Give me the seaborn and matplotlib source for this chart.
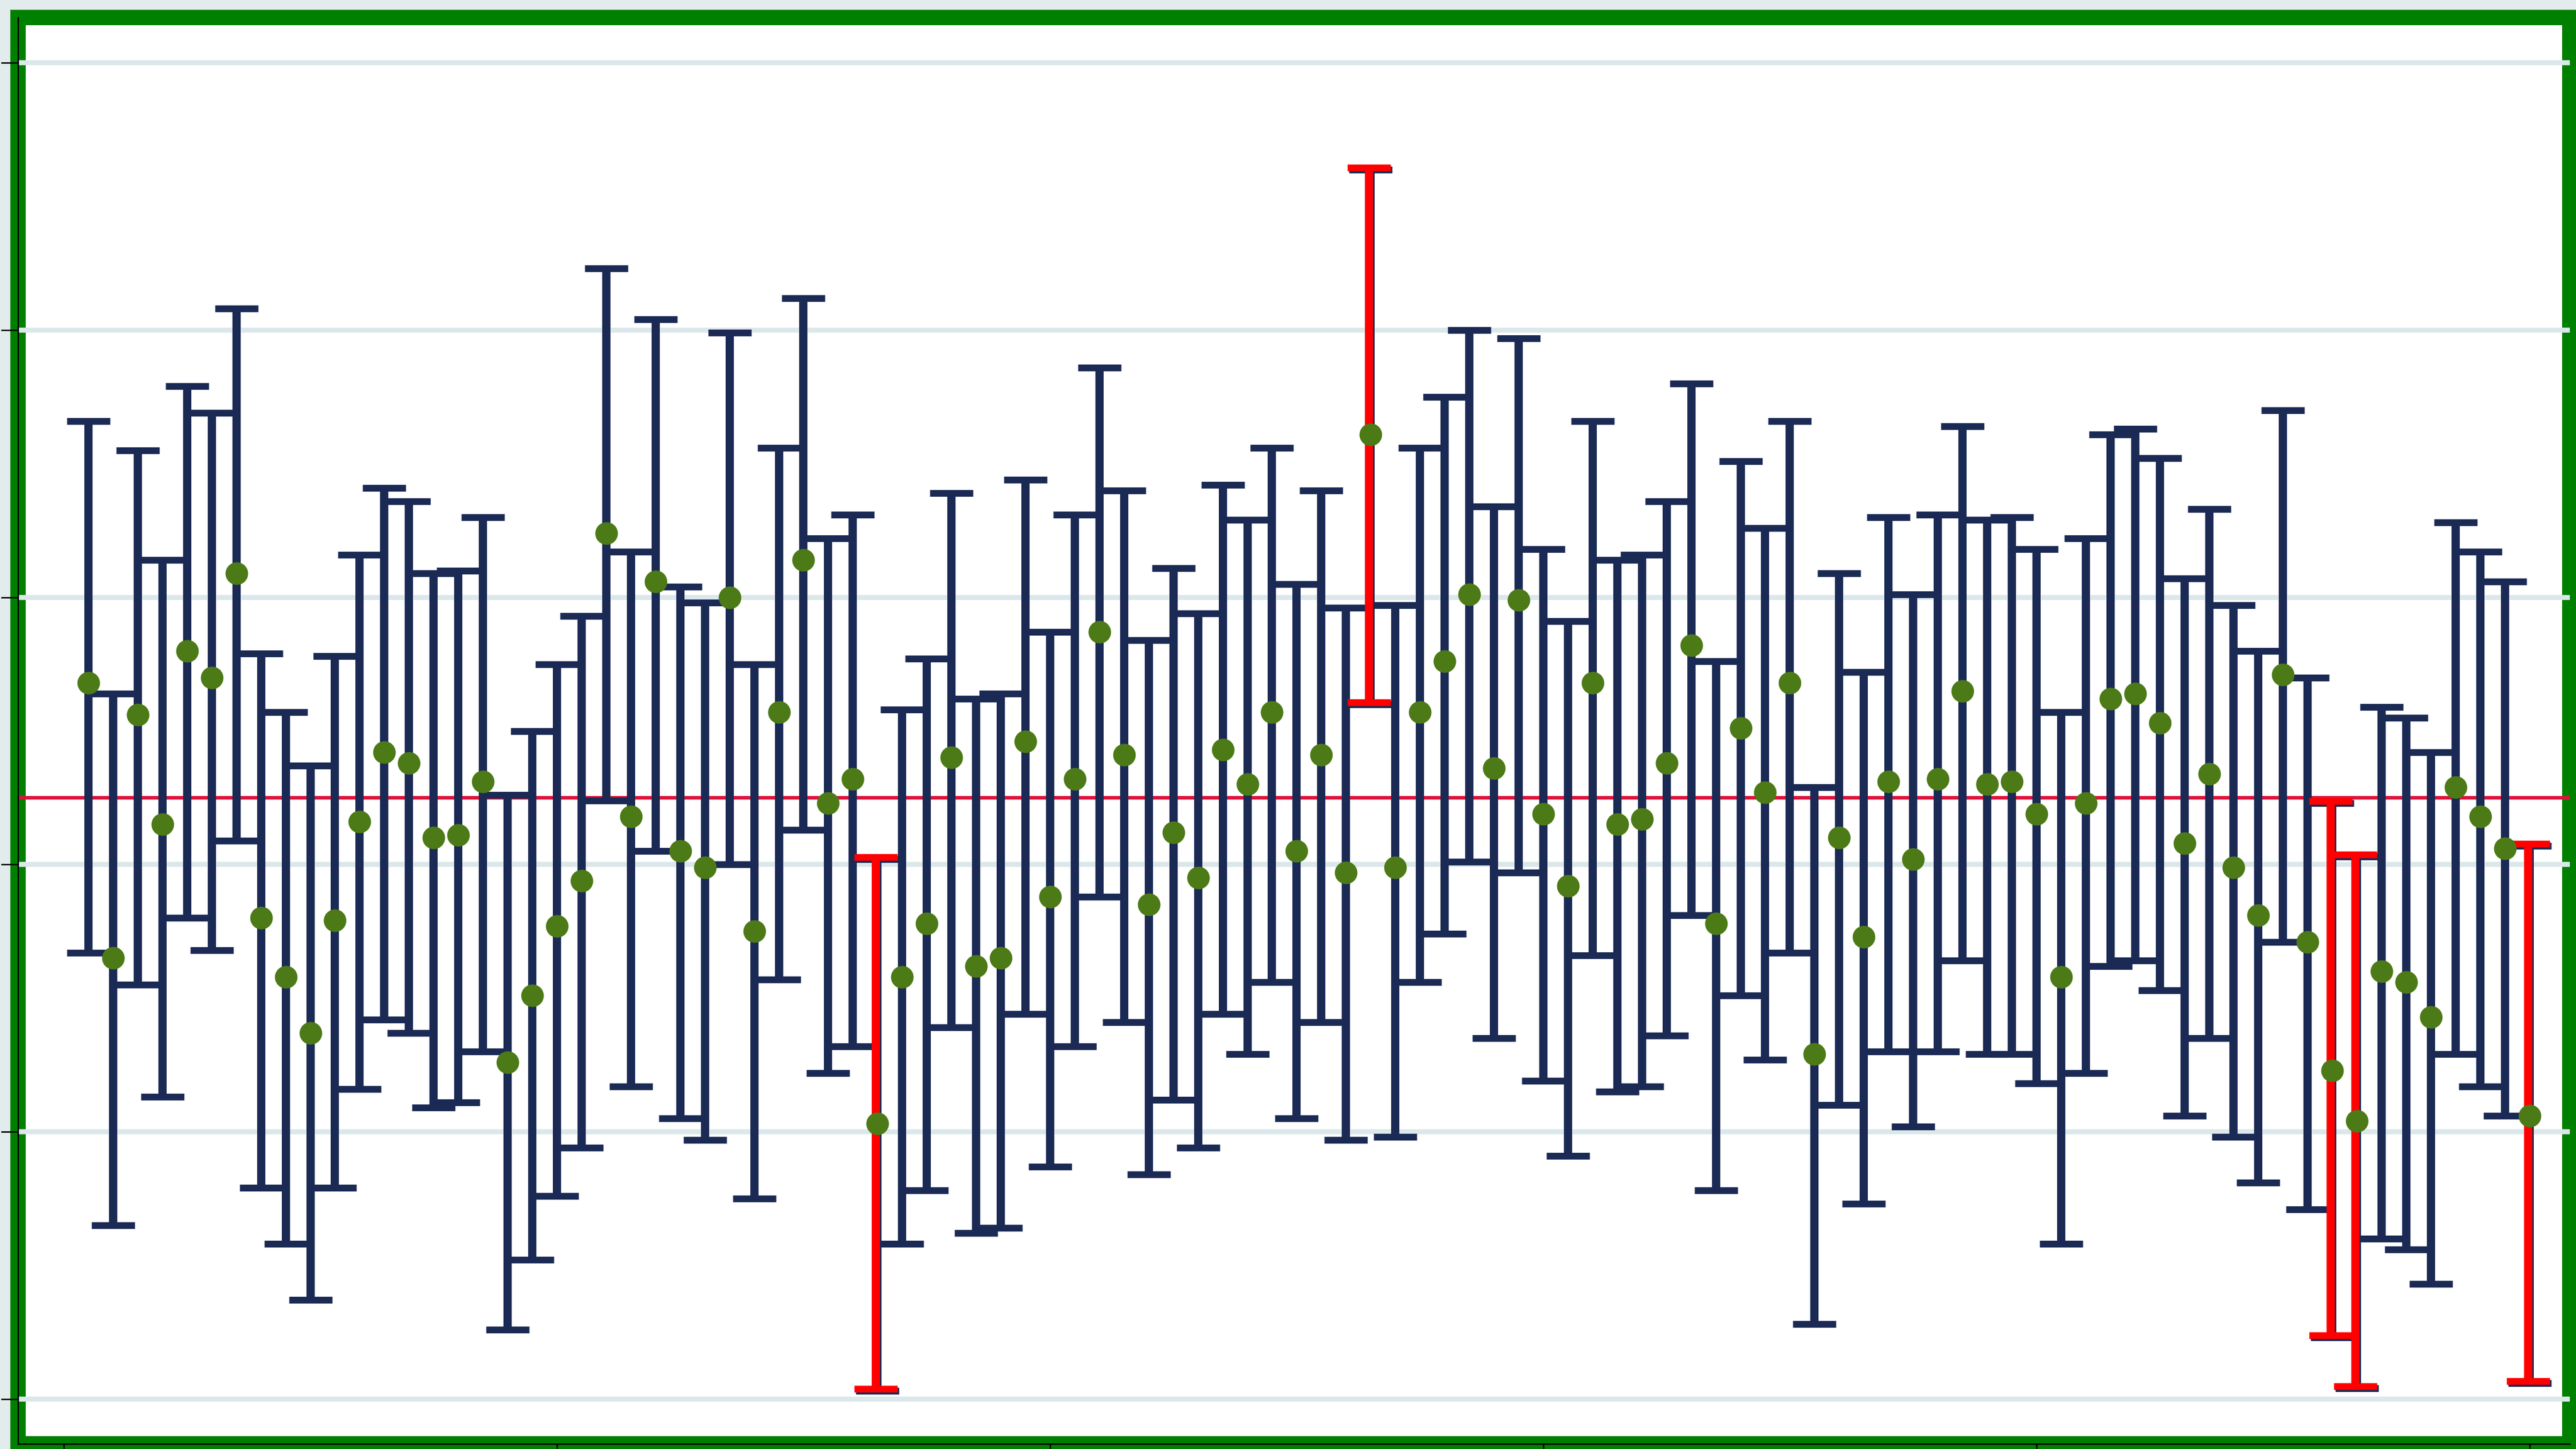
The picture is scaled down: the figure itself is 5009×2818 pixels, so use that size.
import numpy as np
import pandas as pd
import matplotlib
matplotlib.use('Agg')
import matplotlib.pyplot as plt
import matplotlib.transforms as mtransforms
import seaborn as sns

# interval estimates (gridlines every 10 units)
upper = [36.6, 26.4, 35.5, 31.4, 37.9, 36.9, 40.8, 27.9, 25.7, 23.7,
         27.8, 31.6, 34.1, 33.6, 30.9, 31.0, 33.0, 22.6, 25.0, 27.5,
         29.3, 42.3, 31.7, 40.4, 30.4, 29.8, 39.9, 27.5, 35.6, 41.2,
         32.2, 33.1, 20.2, 25.8, 27.7, 33.9, 26.2, 26.4, 34.4, 28.7,
         33.1, 38.6, 34.0, 28.4, 31.1, 29.4, 34.2, 32.9, 35.6, 30.5,
         34.0, 29.6, 46.0, 29.7, 35.6, 37.5, 40.0, 33.4, 39.7, 31.8,
         29.1, 36.6, 31.4, 31.6, 33.6, 38.0, 27.6, 35.1, 32.6, 36.6,
         22.9, 30.9, 27.2, 33.0, 30.1, 33.1, 36.4, 32.9, 33.0, 31.8,
         25.7, 32.2, 36.1, 36.3, 35.2, 30.7, 33.3, 29.7, 28.0, 37.0,
         27.0, 22.3, 20.3, 25.9, 25.5, 24.2, 32.8, 31.7, 30.6, 20.7]

mean = [26.8, 16.5, 25.6, 21.5, 28.0, 27.0, 30.9, 18.0, 15.8, 13.7,
        17.9, 21.6, 24.2, 23.8, 21.0, 21.1, 23.1, 12.6, 15.1, 17.7,
        19.4, 32.4, 21.8, 30.6, 20.5, 19.9, 30.0, 17.5, 25.7, 31.4,
        22.3, 23.2, 10.3, 15.8, 17.8, 24.0, 16.2, 16.5, 24.6, 18.8,
        23.2, 28.7, 24.1, 18.5, 21.2, 19.5, 24.3, 23.0, 25.7, 20.5,
        24.1, 19.7, 36.1, 19.9, 25.7, 27.6, 30.1, 23.6, 29.9, 21.9,
        19.2, 26.8, 21.5, 21.7, 23.8, 28.2, 17.8, 25.1, 22.7, 26.8,
        12.9, 21.0, 17.3, 23.1, 20.2, 23.2, 26.5, 23.0, 23.1, 21.9,
        15.8, 22.3, 26.2, 26.4, 25.3, 20.8, 23.4, 19.9, 18.1, 27.1,
        17.1, 12.3, 10.4, 16.0, 15.6, 14.3, 22.9, 21.8, 20.6, 10.6]

lower = [16.7, 6.5, 15.5, 11.3, 18.0, 16.8, 20.9, 7.9, 5.8, 3.7,
         7.9, 11.6, 14.2, 13.7, 10.9, 11.1, 13.0, 2.6, 5.2, 7.6,
         9.4, 22.4, 11.7, 20.5, 10.5, 9.7, 20.0, 7.5, 15.7, 21.3,
         12.2, 13.2, 0.3, 5.8, 7.8, 13.9, 6.2, 6.4, 14.4, 8.7,
         13.2, 18.8, 14.1, 8.4, 11.2, 9.4, 14.4, 12.9, 15.6, 10.5,
         14.1, 9.7, 26.0, 9.8, 15.6, 17.4, 20.1, 13.5, 19.7, 11.9,
         9.1, 16.6, 11.5, 11.7, 13.6, 18.1, 7.8, 15.1, 12.7, 16.7,
         2.8, 11.0, 7.3, 13.0, 10.2, 13.0, 16.4, 12.9, 12.9, 11.8,
         5.8, 12.2, 16.2, 16.4, 15.3, 10.6, 13.5, 9.8, 8.1, 17.1,
         7.1, 2.3, 0.4, 6.0, 5.6, 4.3, 12.9, 11.7, 10.6, 0.6]

overall = 22.5
y_grid = [0, 10, 20, 30, 40, 50]

NAVY = '#1b2a54'
DOT = '#4c7a16'

df = pd.DataFrame({'pos': np.arange(1, len(mean) + 1), 'mean': mean,
                   'lower': lower, 'upper': upper})
# intervals that miss the overall line are flagged red
df['flag'] = (df['lower'] > overall) | (df['upper'] < overall)

sns.set_style('whitegrid')

fig = plt.figure(figsize=(50.09, 28.18), dpi=100, facecolor='#e3ecec')
ax = fig.add_axes([35 / 5009, 10 / 2818, 4962 / 5009, 2774 / 2818])
ax.set_facecolor('white')
ax.patch.set_edgecolor('green')
ax.patch.set_linewidth(21.6)

ax.axhline(overall, color='#dc143c', lw=5, zorder=2)

err = [df['mean'] - df['lower'], df['upper'] - df['mean']]
ax.errorbar(df['pos'], df['mean'], yerr=err, fmt='none', ecolor=NAVY,
            elinewidth=11.5, capsize=30, capthick=9.5, zorder=3)

red = df[df['flag']]
shift = ax.transData + mtransforms.ScaledTranslation(-3 / 100, 4 / 100, fig.dpi_scale_trans)
eb = ax.errorbar(red['pos'], red['mean'],
                 yerr=[red['mean'] - red['lower'], red['upper'] - red['mean']],
                 fmt='none', ecolor='red', elinewidth=11.5, capsize=30,
                 capthick=9.5, zorder=3.5)
for art in eb.get_children():
    art.set_transform(shift)

sns.scatterplot(data=df, x='pos', y='mean', color=DOT, s=1000, linewidth=0,
                zorder=4, ax=ax, legend=False)

ax.set_xlim(-1.857, 101.63)
ax.set_ylim(-1.68, 51.7)
ax.set_yticks(y_grid)
ax.set_xticks(range(0, 101, 20))
ax.set_xlabel('')
ax.set_ylabel('')

ax.set_axisbelow(True)
ax.xaxis.grid(False)
ax.yaxis.grid(True, color='#dbe7ea', lw=7)

ax.tick_params(axis='y', direction='out', length=24, width=2, color='black',
               left=True, labelleft=False)
ax.tick_params(axis='x', direction='out', length=24, width=2, color='black',
               bottom=True, labelbottom=False)

for side in ['top', 'right']:
    ax.spines[side].set_visible(False)
for side in ['left', 'bottom']:
    ax.spines[side].set_visible(True)
    ax.spines[side].set_color('black')
    ax.spines[side].set_linewidth(2)

fig.savefig('out.png', dpi=100, facecolor=fig.get_facecolor())
